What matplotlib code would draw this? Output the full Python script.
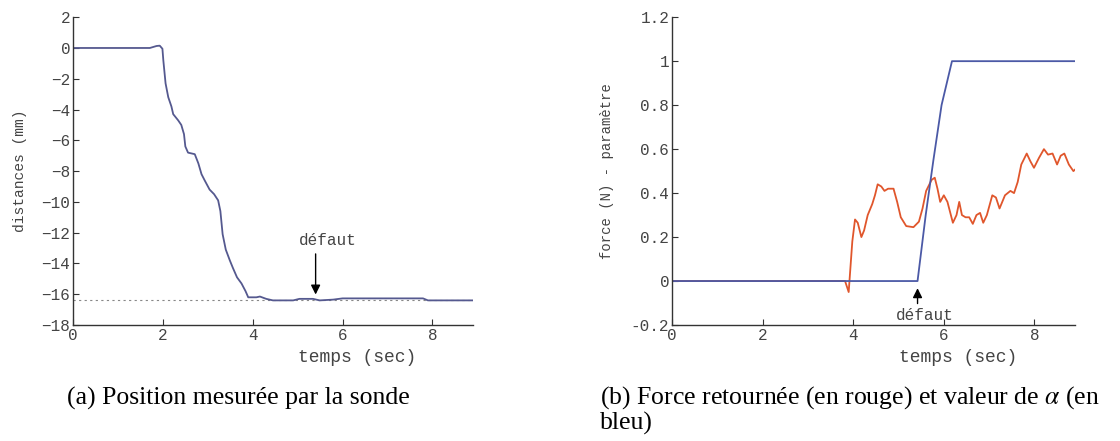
import numpy as np
import matplotlib
matplotlib.use("Agg")
import matplotlib.pyplot as plt

plt.rcParams['mathtext.fontset'] = 'stix'
MONO = ['Liberation Mono', 'DejaVu Sans Mono']
SERIF = ['Liberation Serif', 'DejaVu Serif']

# (a) position mesurée par la sonde
t_pos = [0, 1.71, 1.86, 1.93, 1.99, 2.01, 2.06, 2.12, 2.19, 2.23, 2.34, 2.41, 2.47,
         2.5, 2.56, 2.71, 2.79, 2.86, 2.93, 3.04, 3.14, 3.23, 3.28, 3.33, 3.40, 3.49,
         3.56, 3.65, 3.75, 3.84, 3.90, 4.08, 4.16, 4.3, 4.45, 4.9, 5.04, 5.34, 5.49,
         5.79, 6.0, 7.79, 7.9, 8.9]
pos = [0, 0, 0.13, 0.15, -0.05, -0.8, -2.3, -3.2, -3.8, -4.3, -4.7, -5.0, -5.6,
       -6.4, -6.8, -6.9, -7.5, -8.2, -8.6, -9.2, -9.5, -9.9, -10.6, -12.1, -13.1, -13.8,
       -14.3, -14.9, -15.3, -15.8, -16.2, -16.2, -16.15, -16.3, -16.4, -16.4, -16.3, -16.3, -16.4,
       -16.35, -16.27, -16.27, -16.4, -16.4]
pos_ref = -16.4
defaut_a = 5.4

# (b) alpha (bleu) et force (rouge)
t_alpha = [0, 5.42, 5.6, 5.77, 5.95, 6.18, 8.95]
alpha = [0, 0, 0.3, 0.55, 0.8, 1.0, 1.0]

t_force = [0, 3.82, 3.90, 3.98, 4.04, 4.1, 4.18, 4.24, 4.32, 4.42, 4.48, 4.54, 4.62,
           4.69, 4.77, 4.89, 4.97, 5.05, 5.17, 5.33, 5.45, 5.53, 5.61, 5.73, 5.8, 5.86,
           5.92, 6.0, 6.08, 6.2, 6.28, 6.34, 6.4, 6.48, 6.56, 6.64, 6.72, 6.8, 6.87,
           6.95, 7.07, 7.15, 7.23, 7.35, 7.47, 7.55, 7.63, 7.71, 7.83, 7.91, 7.99, 8.1,
           8.21, 8.3, 8.4, 8.5, 8.58, 8.66, 8.76, 8.86, 8.94]
force = [0, 0, -0.05, 0.18, 0.28, 0.265, 0.2, 0.23, 0.30, 0.35, 0.39, 0.44, 0.43,
         0.41, 0.42, 0.42, 0.36, 0.29, 0.25, 0.245, 0.27, 0.33, 0.41, 0.46, 0.47, 0.42,
         0.36, 0.39, 0.36, 0.265, 0.30, 0.36, 0.30, 0.29, 0.29, 0.26, 0.30, 0.31, 0.265,
         0.30, 0.39, 0.38, 0.33, 0.39, 0.41, 0.40, 0.45, 0.53, 0.58, 0.545, 0.515, 0.56,
         0.6, 0.575, 0.58, 0.53, 0.57, 0.58, 0.53, 0.5, 0.515]
defaut_b = 5.42

fig = plt.figure(figsize=(11.2, 4.41), dpi=100)
ax1 = fig.add_axes([0.0652, 0.263, 0.357, 0.698])
ax2 = fig.add_axes([0.6, 0.263, 0.36, 0.698])


def style(ax):
    for s in ['top', 'right']:
        ax.spines[s].set_visible(False)
    for s in ['left', 'bottom']:
        ax.spines[s].set_color('#333333')
        ax.spines[s].set_linewidth(1.0)
    ax.tick_params(direction='in', length=4, width=0.8, colors='#333333',
                   labelcolor='#444444', pad=2)
    for lab in ax.get_xticklabels() + ax.get_yticklabels():
        lab.set_family(MONO)
        lab.set_fontsize(11.5)


ax1.plot(t_pos, pos, color='#55598f', lw=1.3)
ax1.axhline(pos_ref, color='#888888', lw=0.8, ls=(0, (2, 3)), zorder=0)
ax1.set_xlim(0, 8.9)
ax1.set_ylim(-18, 2)
ax1.set_xticks([0, 2, 4, 6, 8])
ax1.set_yticks(np.arange(-18, 3, 2))
ax1.set_ylabel('distances (mm)', family=MONO, fontsize=10.5, color='#444444', labelpad=10)
ax1.set_xlabel('temps (sec)', family=MONO, fontsize=13, color='#444444', va='center')
ax1.xaxis.set_label_coords(0.71, -0.107)
ax1.annotate('', xy=(defaut_a, -16.2), xytext=(defaut_a, -13.2),
             arrowprops=dict(arrowstyle='-|>', color='black', lw=1.0, mutation_scale=14))
ax1.text(defaut_a + 0.27, -12.5, 'défaut', family=MONO, fontsize=11.5,
         color='#444444', ha='center', va='center')
style(ax1)

ax2.plot(t_force, force, color='#e0562c', lw=1.3)
ax2.plot(t_alpha, alpha, color='#4b59a6', lw=1.3)
ax2.set_xlim(0, 8.9)
ax2.set_ylim(-0.2, 1.2)
ax2.set_xticks([0, 2, 4, 6, 8])
ax2.set_yticks([-0.2, 0, 0.2, 0.4, 0.6, 0.8, 1, 1.2])
ax2.set_yticklabels(['-0.2', '0', '0.2', '0.4', '0.6', '0.8', '1', '1.2'])
ax2.set_ylabel('force (N) - paramètre', family=MONO, fontsize=10, color='#444444', labelpad=12)
ax2.set_xlabel('temps (sec)', family=MONO, fontsize=13, color='#444444', va='center')
ax2.xaxis.set_label_coords(0.71, -0.107)
ax2.annotate('', xy=(defaut_b, -0.02), xytext=(defaut_b, -0.115),
             arrowprops=dict(arrowstyle='-|>', color='black', lw=1.0, mutation_scale=14))
ax2.text(defaut_b + 0.17, -0.155, 'défaut', family=MONO, fontsize=11.5,
         color='#444444', ha='center', va='center')
style(ax2)

fig.text(67 / 1120, 1 - 398 / 441, '(a) Position mesurée par la sonde',
         family=SERIF, fontsize=18.5, va='center', ha='left')
fig.text(600 / 1120, 1 - 398 / 441, r'(b) Force retournée (en rouge) et valeur de $\alpha$ (en',
         family=SERIF, fontsize=18.5, va='center', ha='left')
fig.text(600 / 1120, 1 - 423 / 441, 'bleu)',
         family=SERIF, fontsize=18.5, va='center', ha='left')

fig.savefig('out.png', dpi=100, facecolor='white')
